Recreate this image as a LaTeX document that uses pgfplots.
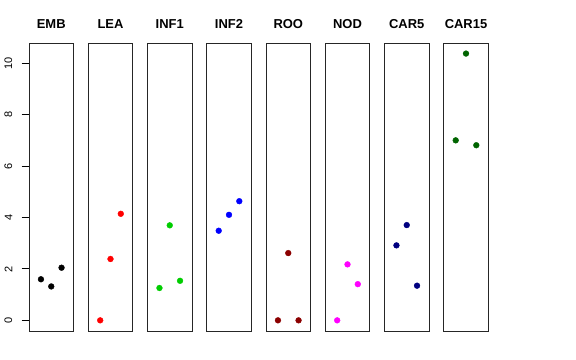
\documentclass[border=0pt]{standalone}
\usepackage{fontspec}
\setmainfont{Liberation Sans}
\usepackage{pgfplots}
\pgfplotsset{compat=1.18}
\definecolor{cgreen}{HTML}{00CD00}
\definecolor{cdarkred}{HTML}{8B0000}
\definecolor{cnavy}{HTML}{000080}
\definecolor{cdarkgreen}{HTML}{006400}
\definecolor{cmagenta}{HTML}{FF00FF}
\definecolor{cred}{HTML}{FF0000}
\definecolor{cblue}{HTML}{0000FF}
\pgfplotsset{
  panel/.style={
    scale only axis, width=44.5bp, height=287.7bp,
    anchor=south west,
    xmin=-0.16, xmax=4.16, ymin=-0.415, ymax=10.79,
    xtick=\empty, ytick=\empty,
    axis line style={line width=0.8bp, black!85},
    title style={at={(0.5,1)}, anchor=base, yshift=9.3bp, font=\fontsize{13}{13}\selectfont\bfseries},
    every axis plot/.append style={only marks, mark=*, mark size=2.9bp},
    clip=false,
  },
}
\begin{document}
\begin{tikzpicture}
\useasboundingbox (0,0) rectangle (576bp,360bp);
\begin{axis}[panel, at={(29bp,29bp)}, title={EMB},
  ytick={0,2,4,6,8,10}, ytick pos=left,
  ytick align=outside, major tick length=7.5bp,
  every tick/.style={line width=1bp, draw=black},
  every major tick/.style={line width=1bp, draw=black},
  /pgf/number format/assume math mode=true,
  yticklabel style={rotate=90, anchor=south, inner ysep=9bp, font=\fontsize{11}{11}\selectfont}]
\addplot[black, mark options={fill=black, draw=black}] coordinates {(1,1.60) (2,1.32) (3,2.05)};
\end{axis}
\begin{axis}[panel, at={(88.25bp,29bp)}, title={LEA}]
\addplot[cred, mark options={fill=cred, draw=cred}] coordinates {(1,0.0) (2,2.39) (3,4.15)};
\end{axis}
\begin{axis}[panel, at={(147.5bp,29bp)}, title={INF1}]
\addplot[cgreen, mark options={fill=cgreen, draw=cgreen}] coordinates {(1,1.26) (2,3.70) (3,1.54)};
\end{axis}
\begin{axis}[panel, at={(206.75bp,29bp)}, title={INF2}]
\addplot[cblue, mark options={fill=cblue, draw=cblue}] coordinates {(1,3.49) (2,4.11) (3,4.64)};
\end{axis}
\begin{axis}[panel, at={(266bp,29bp)}, title={ROO}]
\addplot[cdarkred, mark options={fill=cdarkred, draw=cdarkred}] coordinates {(1,0.0) (2,2.62) (3,0.0)};
\end{axis}
\begin{axis}[panel, at={(325.25bp,29bp)}, title={NOD}]
\addplot[cmagenta, mark options={fill=cmagenta, draw=cmagenta}] coordinates {(1,0.0) (2,2.18) (3,1.41)};
\end{axis}
\begin{axis}[panel, at={(384.5bp,29bp)}, title={CAR5}]
\addplot[cnavy, mark options={fill=cnavy, draw=cnavy}] coordinates {(1,2.92) (2,3.71) (3,1.35)};
\end{axis}
\begin{axis}[panel, at={(443.75bp,29bp)}, title={CAR15}]
\addplot[cdarkgreen, mark options={fill=cdarkgreen, draw=cdarkgreen}] coordinates {(1,7.01) (2,10.39) (3,6.82)};
\end{axis}
\end{tikzpicture}
\end{document}
